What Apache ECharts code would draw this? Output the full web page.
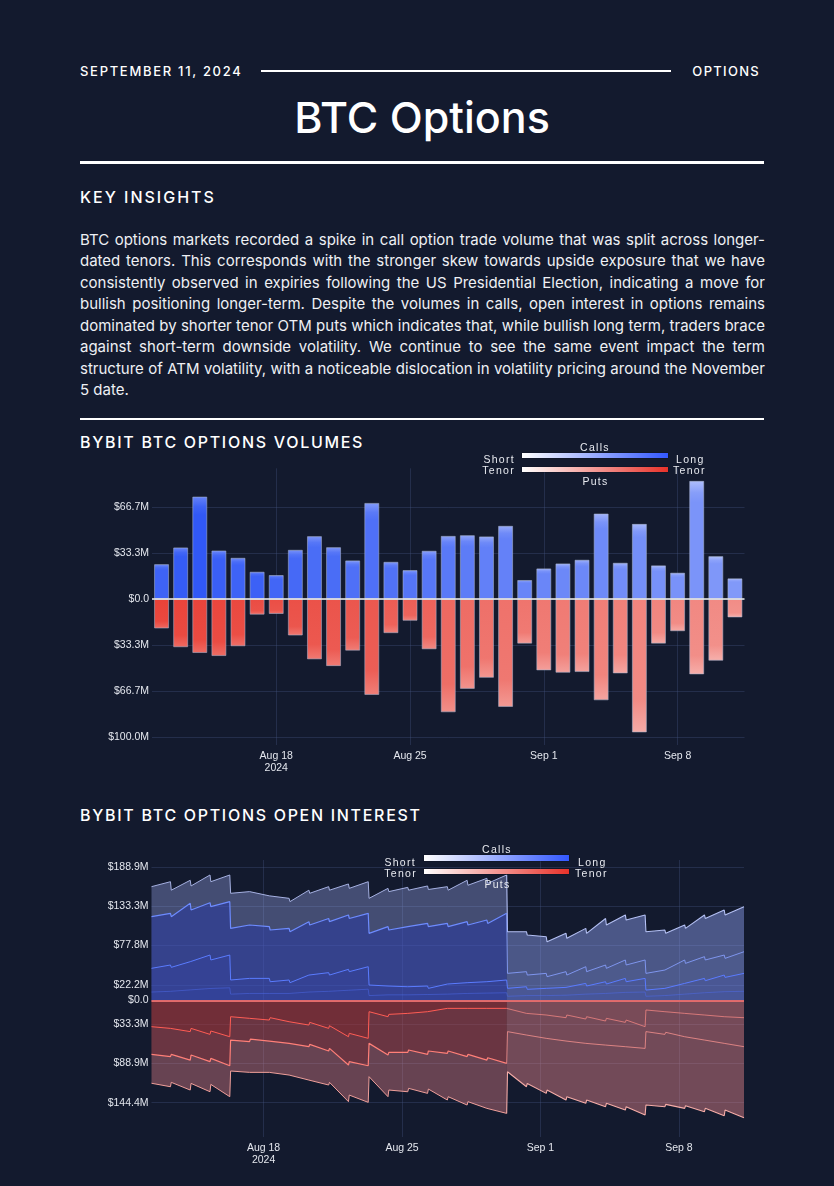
<!DOCTYPE html>
<html>
<head>
<meta charset="utf-8">
<title>BTC Options</title>
<script src="https://cdn.jsdelivr.net/npm/echarts@6/dist/echarts.min.js"></script>
<style>
html, body { margin: 0; padding: 0; }
body { width: 834px; height: 1186px; background: #131a2e; position: relative; overflow: hidden;
       font-family: Inter, "Noto Sans", sans-serif; color: #fff; }
.abs { position: absolute; }
.kicker { font-size: 13px; line-height: 16px; letter-spacing: 1.3px; font-weight: 500; }
.rule { background: #fff; }
.title { left: 80px; width: 684px; text-align: center; font-size: 43px; line-height: 52px; font-weight: 500; }
.section { left: 80px; font-size: 16px; line-height: 19px; letter-spacing: 1.7px; font-weight: 500; }
.para { left: 80px; width: 685px; font-size: 15px; line-height: 21.43px; color: #eef0f4; }
.para div { text-align: justify; text-align-last: justify; }
.para div.last { text-align-last: left; }
.chart { left: 0; width: 834px; }
.lg { position: absolute; z-index: 5; font-family: "Liberation Sans", Arial, sans-serif; font-size: 10.5px;
      line-height: 12px; letter-spacing: 1.3px; color: #e8eaf0; white-space: nowrap; }
.lg.c { width: 100px; text-align: center; }
.lgbar { position: absolute; z-index: 5; box-shadow: 0 0 0 0.5px rgba(10,15,30,0.6); }
.lgbar.calls { background: linear-gradient(to right, #ffffff, #3358ff); }
.lgbar.puts { background: linear-gradient(to right, #ffffff, #e8322a); }
</style>
</head>
<body>
<div class="abs kicker" style="left:80px; top:63px; letter-spacing:1.7px;">SEPTEMBER 11, 2024</div>
<div class="abs rule" style="left:261px; top:70px; width:410px; height:2px;"></div>
<div class="abs kicker" style="right:74px; top:63px;">OPTIONS</div>
<div class="abs title" style="top:91px;">BTC Options</div>
<div class="abs rule" style="left:80px; top:161px; width:684px; height:2.5px;"></div>
<div class="abs section" style="top:188px; letter-spacing:2px;">KEY INSIGHTS</div>
<div class="abs para" style="top:229px;">
  <div>BTC options markets recorded a spike in call option trade volume that was split across longer-</div>
  <div>dated tenors. This corresponds with the stronger skew towards upside exposure that we have</div>
  <div>consistently observed in expiries following the US Presidential Election, indicating a move for</div>
  <div>bullish positioning longer-term. Despite the volumes in calls, open interest in options remains</div>
  <div>dominated by shorter tenor OTM puts which indicates that, while bullish long term, traders brace</div>
  <div>against short-term downside volatility. We continue to see the same event impact the term</div>
  <div>structure of ATM volatility, with a noticeable dislocation in volatility pricing around the November</div>
  <div class="last">5 date.</div>
</div>
<div class="abs rule" style="left:80px; top:418px; width:684px; height:2px;"></div>
<div class="abs section" style="top:433px;">BYBIT BTC OPTIONS VOLUMES</div>
<div class="abs section" style="top:806px;">BYBIT BTC OPTIONS OPEN INTEREST</div>
<div id="volumes" class="abs chart" style="top:430px; height:350px;"></div>
<div id="open_interest" class="abs chart" style="top:840px; height:330px;"></div>

<!-- tenor colour keys -->
<div class="lg c" style="left:545px; top:441px;">Calls</div>
<div class="lg" style="right:319px; top:452.5px;">Short</div>
<div class="lgbar calls" style="left:521.5px; top:452.7px; width:146px; height:5.6px;"></div>
<div class="lg" style="left:676px; top:452.5px;">Long</div>
<div class="lg" style="right:319px; top:464px;">Tenor</div>
<div class="lgbar puts" style="left:521.5px; top:467px; width:146px; height:5px;"></div>
<div class="lg" style="left:673px; top:464px;">Tenor</div>
<div class="lg c" style="left:545.5px; top:475px;">Puts</div>

<div class="lg c" style="left:447px; top:843px;">Calls</div>
<div class="lg" style="right:418px; top:855.7px;">Short</div>
<div class="lgbar calls" style="left:424px; top:855px; width:145px; height:5.7px;"></div>
<div class="lg" style="left:578px; top:855.7px;">Long</div>
<div class="lg" style="right:417px; top:867.3px;">Tenor</div>
<div class="lgbar puts" style="left:424px; top:869.3px; width:145px; height:5px;"></div>
<div class="lg" style="left:575px; top:867.3px;">Tenor</div>
<div class="lg c" style="left:447.5px; top:878.3px;">Puts</div>

<script>
// daily traded volume, $M (Aug 12 .. Sep 11)
var volCalls = [25.3, 37.4, 74.3, 35.2, 29.9, 19.8, 17.4, 35.7, 45.6, 37.6, 28.0, 69.7, 27.0, 21.0, 35.0, 45.8,
                46.3, 45.4, 53.1, 13.8, 22.2, 25.8, 28.5, 62.0, 26.3, 54.5, 24.4, 19.1, 85.7, 31.1, 15.0];
var volPuts = [21.4, 35.0, 39.2, 41.4, 34.3, 11.4, 10.9, 26.5, 43.8, 48.7, 37.5, 69.6, 24.8, 15.8, 36.5, 82.2,
               65.2, 57.2, 78.3, 32.4, 51.8, 53.5, 53.0, 73.5, 54.0, 96.8, 32.4, 23.4, 54.7, 44.8, 13.4];
// share of short-dated volume in each bar
var callShortShare = [0.08, 0.04, 0.02, 0.06, 0.08, 0.07, 0.1, 0.12, 0.14, 0.14, 0.16, 0.16, 0.17, 0.19, 0.2, 0.21,
                      0.23, 0.25, 0.26, 0.28, 0.29, 0.3, 0.3, 0.31, 0.33, 0.34, 0.35, 0.36, 0.37, 0.39, 0.4];
var putShortShare = [0.05, 0.06, 0.06, 0.07, 0.08, 0.1, 0.11, 0.12, 0.13, 0.14, 0.15, 0.16, 0.18, 0.19, 0.21, 0.24,
                     0.26, 0.28, 0.29, 0.3, 0.32, 0.33, 0.34, 0.35, 0.36, 0.38, 0.38, 0.39, 0.4, 0.41, 0.42];

var xTickDays = ['2024-08-18', '2024-08-25', '2024-09-01', '2024-09-08'];
var xTickLabels = ['Aug 18\n2024', 'Aug 25', 'Sep 1', 'Sep 8'];
var volYTicks = [-100, -66.667, -33.333, 0, 33.333, 66.667];
var oiYTicks = [-144.444, -88.889, -33.333, 0, 22.222, 77.778, 133.333, 188.889];

// open interest, $M, cumulative by tenor bucket
// samples: Aug 12 08:00, then each day 07:00 (before expiry) and 08:00 (after expiry) .. Sep 11 07:00
var oiCallTotal = [161, 168, 156, 170, 162, 177.5, 168, 177.5, 151.6, 154, 151.6, 148, 146, 144.5, 139.8, 156, 151.6,
                   161, 156, 164.8, 158.6, 168, 144.5, 158.6, 154, 160, 156, 162, 157, 161, 156, 170, 163, 172.8, 165.7,
                   177.5, 97.3, 97.3, 92.6, 90.2, 83, 95, 87.9, 102, 95, 116, 106.8, 121, 113.8, 121, 97.3, 99.7, 95,
                   106.8, 102, 121, 116, 128, 121, 132.7];
var oiCallMid = [118.5, 123.3, 118.5, 137.4, 128, 138.3, 132.7, 139.8, 102, 106.8, 104.4, 104.4, 99.7, 102, 97.3, 111.5,
                 106.8, 116, 111.5, 121, 116, 123.3, 95, 104.4, 99.7, 104.4, 102, 109, 104.4, 109, 104.4, 111.5, 106.8,
                 113.8, 109, 123.3, 38.4, 40.8, 36, 38.4, 33.7, 40.8, 36, 47.8, 40.8, 50.2, 45.5, 57.3, 50.2, 57.3, 38.4,
                 43.1, 40.8, 57.3, 52.5, 62, 57.3, 64.3, 59.6, 69];
var oiCallLong = [45.5, 50.2, 46.9, 54.9, 52.5, 64.3, 57.3, 64.3, 29, 31.3, 29, 31.3, 26.6, 29, 25.2, 36, 33.7, 39.4, 36,
                  44.1, 40.8, 47.8, 21.9, 20.5, 18.6, 19.5, 17.2, 20.5, 17.2, 23.3, 20.5, 25.2, 23.3, 26.6, 24.2, 29, 17.2,
                  19.5, 15.8, 17.2, 14.8, 18.6, 15.8, 24.2, 20.5, 26.6, 23.3, 31.3, 26.6, 31.3, 14.8, 17.2, 15.8, 24.2,
                  21.9, 31.3, 28, 36, 32.7, 38.4];
var oiCallLongest = [12, 13, 12, 15, 13.5, 17, 15, 18, 9, 10, 9, 10, 8.5, 10, 8.5, 12, 10.5, 13, 11.5, 14.5, 13, 16, 7,
                     8, 7, 8, 7, 8.5, 7.5, 9, 8, 10, 9, 10.5, 9.5, 11, 6, 7, 6, 7, 6, 7.5, 6.5, 9, 8, 10, 9, 11.5, 10,
                     12, 6, 7, 6.5, 9, 8, 11, 10, 12.5, 11, 13];
var oiPutTotal = [117, 121.9, 115.7, 126.6, 117.2, 129, 118.6, 136, 99.7, 101.6, 99.7, 101.6, 99.7, 105.4, 103, 112.5,
                  110, 119.5, 115.7, 143, 133.7, 144, 107.7, 136, 126.6, 129, 124.2, 131.3, 125.2, 140.7, 136, 147.8,
                  143, 152.5, 150.2, 159.6, 100.7, 121.9, 117.2, 131.3, 126.6, 140.7, 136, 145.4, 140.7, 150.2, 145.4,
                  154.9, 150.2, 162, 147.8, 150.2, 146.9, 152.5, 148.8, 157.2, 152.5, 162.9, 154.9, 165.7];
var oiPutMid = [76.1, 79.4, 76.1, 84.2, 77.1, 86.5, 81.8, 92.2, 55.9, 58.2, 54.5, 57.3, 54.5, 60.6, 58.2, 65.3, 62, 71.4,
                67.7, 91.2, 86.5, 92.2, 60.6, 77.1, 73.3, 73.3, 70, 76.1, 71.4, 74.7, 71.4, 79.4, 76.1, 84.2, 80.9, 88.9,
                44, 48.8, 46.4, 53.5, 51.2, 57.3, 54.5, 60.6, 58.2, 63, 60.6, 65.3, 63, 67.7, 44, 47.9, 45, 51.2, 48.8,
                55.9, 53.5, 60.6, 58.2, 65.3];
var oiPutLong = [37, 39.4, 37, 44, 39.4, 47.9, 43.1, 51.2, 22.9, 25.2, 22.9, 27.6, 24.3, 30, 27.6, 34.7, 30.9, 39.4, 35.6,
                 51.2, 46.4, 53.5, 15.8, 22.9, 19.6, 18.2, 15.8, 15.8, 13.4, 11.1, 8.7, 11.1, 9.2, 11.1, 9.2, 11.1, 13.4,
                 18.2, 15.8, 20.5, 18.2, 24.3, 20.5, 26.2, 22.9, 29, 25.2, 30.9, 27.6, 37, 13.4, 15.8, 13.4, 18.2, 15.8,
                 20.5, 18.2, 22.9, 20.5, 24.3];
var monthlyExpiryIndex = 36; // Aug 30 08:00, first sample after the monthly expiry

var gridColor = 'rgba(70, 86, 128, 0.35)';
var tickColor = '#e4e7ee';
var white = [255, 255, 255];
var callLong = [45, 85, 245];
var putLong = [232, 56, 46];

function dayTime(s, h) {
    var p = s.split('-');
    return new Date(+p[0], +p[1] - 1, +p[2], h || 0).getTime();
}
function mix(a, b, t) {
    t = Math.max(0, Math.min(1, t));
    return 'rgb(' + Math.round(a[0] + (b[0] - a[0]) * t) + ',' + Math.round(a[1] + (b[1] - a[1]) * t) + ','
        + Math.round(a[2] + (b[2] - a[2]) * t) + ')';
}
function money(v) {
    if (Math.abs(v) < 0.01) return '$0.0';
    return '$' + Math.abs(v).toFixed(1) + 'M';
}

var xTickTimes = xTickDays.map(function (s) { return dayTime(s); });
function dateLabel(v) {
    for (var i = 0; i < xTickTimes.length; i++) {
        if (Math.abs(xTickTimes[i] - v) < 1000) return xTickLabels[i];
    }
    return '';
}

function timeAxis(min, max) {
    return {
        type: 'value',
        min: min,
        max: max,
        axisLine: { show: false },
        axisTick: { show: false, customValues: xTickTimes },
        axisLabel: { customValues: xTickTimes, formatter: dateLabel, color: tickColor, fontSize: 10.5,
                     lineHeight: 12, margin: 5 },
        splitLine: { show: true, lineStyle: { color: gridColor, width: 1 } }
    };
}

function draw_volumes() {
    var myChart = echarts.init(document.getElementById('volumes'));
    var volTimes = [];
    for (var i = 0; i < volCalls.length; i++) {
        volTimes.push(new Date(2024, 7, 12 + i).getTime());
    }
    var option = {
        animation: false,
        textStyle: { fontFamily: '"Liberation Sans", Arial, sans-serif' },
        grid: { left: 152, right: 89.5, top: 38.3, bottom: 35 },
        xAxis: timeAxis(new Date(2024, 7, 11, 12).getTime(), new Date(2024, 8, 11, 12).getTime()),
        yAxis: {
            type: 'value',
            min: -105.9,
            max: 94.8,
            axisLine: { show: false },
            axisTick: { show: false, customValues: volYTicks },
            axisLabel: { customValues: volYTicks, formatter: money, color: tickColor, fontSize: 10.5, margin: 3 },
            splitLine: { show: true, lineStyle: { color: gridColor, width: 1 } }
        },
        series: [
            {
                name: 'Calls',
                type: 'bar',
                barWidth: 15,
                barGap: '-100%',
                data: volCalls.map(function (v, i) { return [volTimes[i], v]; }),
                itemStyle: {
                    borderColor: 'rgba(170,180,205,0.55)',
                    borderWidth: 1,
                    color: function (p) {
                        var s = callShortShare[p.dataIndex];
                        return new echarts.graphic.LinearGradient(0, 0, 0, 1, [
                            { offset: 0, color: mix(callLong, white, s + 0.25) },
                            { offset: 0.1, color: mix(callLong, white, s + 0.06) },
                            { offset: 0.18, color: mix(callLong, white, s) },
                            { offset: 1, color: mix(callLong, white, s) }
                        ]);
                    }
                },
                markLine: {
                    silent: true, symbol: 'none', label: { show: false },
                    lineStyle: { color: '#f2f2f2', width: 1.5, type: 'solid' },
                    data: [{ yAxis: 0 }]
                }
            },
            {
                name: 'Puts',
                type: 'bar',
                barWidth: 15,
                barGap: '-100%',
                data: volPuts.map(function (v, i) { return [volTimes[i], -v]; }),
                itemStyle: {
                    borderColor: 'rgba(170,180,205,0.55)',
                    borderWidth: 1,
                    color: function (p) {
                        var s = putShortShare[p.dataIndex];
                        return new echarts.graphic.LinearGradient(0, 0, 0, 1, [
                            { offset: 0, color: mix(putLong, white, s) },
                            { offset: 0.75, color: mix(putLong, white, s + 0.03) },
                            { offset: 1, color: mix(putLong, white, s + 0.2) }
                        ]);
                    }
                }
            }
        ]
    };
    myChart.setOption(option);
}

function draw_open_interest() {
    var myChart = echarts.init(document.getElementById('open_interest'));
    var oiTimes = [];
    for (var d = 0; d < 30; d++) {
        oiTimes.push(new Date(2024, 7, 12 + d, 8).getTime());
        oiTimes.push(new Date(2024, 7, 13 + d, 7).getTime());
    }
    function pts(arr, sign, from, to) {
        var out = [];
        for (var i = from; i < to; i++) out.push([oiTimes[i], sign * arr[i]]);
        return out;
    }
    function area(name, data, line, lineWidth, fill, z) {
        return {
            name: name, type: 'line', data: data, symbol: 'none', z: z,
            lineStyle: { color: line, width: lineWidth },
            areaStyle: { color: fill, origin: 0 }
        };
    }
    // before the Aug 30 expiry: samples 0..k-1; after it: k-1..n-1 (shares the drop segment)
    var n = oiTimes.length, k = monthlyExpiryIndex;
    var series = [
        area('Calls total', pts(oiCallTotal, 1, 0, k), '#a6b1e2', 1, 'rgba(160,172,245,0.5)', 2),
        area('Calls total late', pts(oiCallTotal, 1, k - 1, n), '#b4c0f4', 1.1, 'rgba(150,168,250,0.62)', 2),
        area('Calls mid', pts(oiCallMid, 1, 0, k), '#6d8bff', 1.2, 'rgba(30,50,180,0.55)', 3),
        area('Calls mid late', pts(oiCallMid, 1, k - 1, n), 'rgba(135,160,255,0.85)', 1, 'rgba(110,135,245,0.08)', 3),
        area('Calls long', pts(oiCallLong, 1, 0, n), '#5b7cff', 1, 'rgba(45,75,235,0.12)', 4),
        area('Calls longest', pts(oiCallLongest, 1, 0, n), 'rgba(80,110,240,0.6)', 0.8, 'rgba(45,75,235,0.08)', 5),
        area('Puts total', pts(oiPutTotal, -1, 0, k), '#f0a09b', 1, 'rgba(250,140,145,0.52)', 2),
        area('Puts total late', pts(oiPutTotal, -1, k - 1, n), '#f5aca7', 1.1, 'rgba(252,145,150,0.58)', 2),
        area('Puts mid', pts(oiPutMid, -1, 0, k), '#ff7f78', 1.2, 'rgba(120,20,25,0.4)', 3),
        area('Puts mid late', pts(oiPutMid, -1, k - 1, n), 'rgba(255,150,145,0.75)', 1, 'rgba(240,120,120,0.05)', 3),
        area('Puts long', pts(oiPutLong, -1, 0, k), '#ff5d55', 1, 'rgba(140,20,25,0.3)', 4),
        area('Puts long late', pts(oiPutLong, -1, k - 1, n), 'rgba(255,140,135,0.7)', 1, 'rgba(240,120,120,0.04)', 4)
    ];
    series[6].markLine = {
        silent: true, symbol: 'none', label: { show: false },
        lineStyle: { color: '#e26b6b', width: 2, type: 'solid' },
        data: [{ yAxis: 0 }]
    };
    var option = {
        animation: false,
        textStyle: { fontFamily: '"Liberation Sans", Arial, sans-serif' },
        grid: { left: 151.5, right: 90, top: 20, bottom: 33 },
        xAxis: timeAxis(oiTimes[0], oiTimes[oiTimes.length - 1]),
        yAxis: {
            type: 'value',
            min: -193,
            max: 198.7,
            axisLine: { show: false },
            axisTick: { show: false, customValues: oiYTicks },
            axisLabel: { customValues: oiYTicks, formatter: money, color: tickColor, fontSize: 10.5, margin: 3 },
            splitLine: { show: true, lineStyle: { color: gridColor, width: 1 } }
        },
        series: series
    };
    myChart.setOption(option);
}

draw_volumes();
draw_open_interest();
</script>
</body>
</html>
